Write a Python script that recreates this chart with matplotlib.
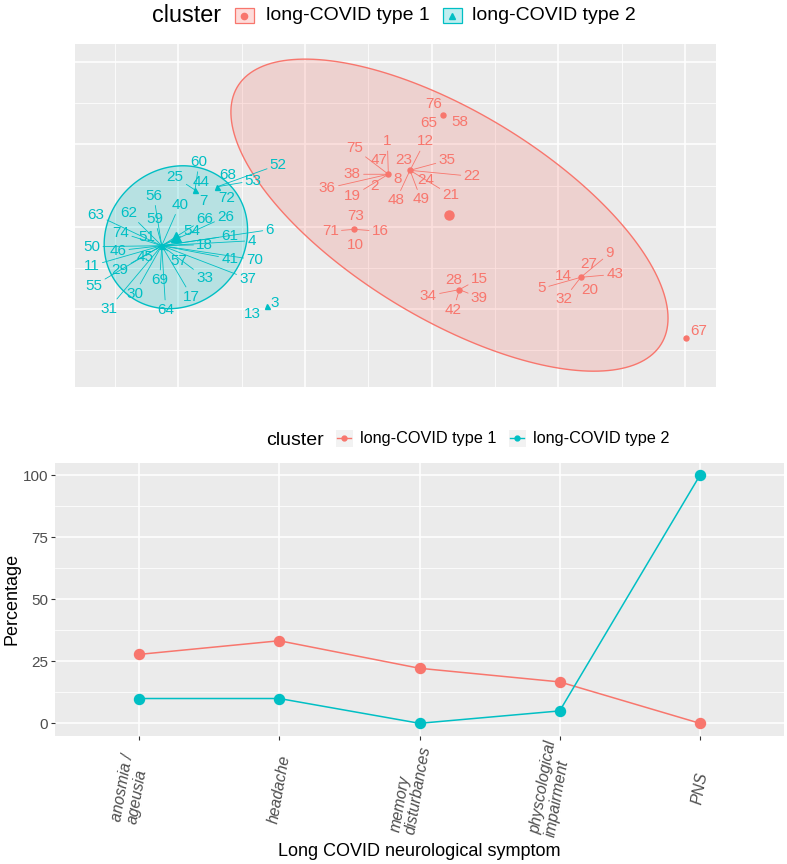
import numpy as np
import matplotlib
matplotlib.use("Agg")
import matplotlib.pyplot as plt
from matplotlib.patches import Polygon, Rectangle
from matplotlib.lines import Line2D

plt.rcParams['font.family'] = ['Liberation Sans', 'DejaVu Sans']

RED = '#F8766D'
TEAL = '#00BFC4'
PANEL = '#EBEBEB'

# ---------------- top: individuals on the first two dimensions ----------------
# many individuals share the same coordinates, so they are listed per position
grp_dim1 = [-1.132, -0.869, -0.693, -0.300, 1.088, 0.658, 0.829, 0.389, 1.219, 2.178, 3.009]
grp_dim2 = [-0.231, 0.446, 0.486, -0.964, 1.361, 0.637, 0.685, -0.032, -0.765, -0.615, -1.352]
grp_cluster = [2, 2, 2, 2, 1, 1, 1, 1, 1, 1, 1]
grp_members = [
    [56, 40, 63, 62, 59, 66, 26, 54, 6, 74, 51, 61, 4, 18, 50, 46, 45, 57, 41, 70,
     11, 29, 33, 37, 69, 55, 30, 17, 31, 64],
    [25, 44, 60, 7],
    [68, 52, 53, 72],
    [13, 3],
    [76, 65, 58],
    [1, 75, 47, 38, 8, 36, 2, 19],
    [12, 23, 35, 22, 24, 48, 49, 21],
    [73, 71, 16, 10],
    [28, 15, 34, 39, 42],
    [9, 27, 14, 43, 5, 20, 32],
    [67],
]
# repelled label offsets (pixels) of each individual
lab_dx = [
    [-8, 18, -66, -33, -7, 43, 64, 30, 108, -41, -15, 68, 90, 43, -70, -44, -17, 17, 68, 93,
     -70, -42, 43, 86, -2, -68, -27, 30, -53, 4],
    [-20, 6, 4, 8],
    [10, 61, 36, 9],
    [-15, 8],
    [-9, -14, 17],
    [-1, -34, -9, -36, 9, -61, -14, -36],
    [15, -6, 37, 62, 16, -14, 11, 41],
    [1, -24, 26, 1],
    [-6, 20, -31, 20, -6],
    [29, 8, -17, 34, -39, 9, -17],
    [13],
]
lab_dy = [
    [50, 41, 31, 33, 27, 27, 29, 15, 16, 13, 9, 10, 5, 1, -1, -5, -11, -15, -13, -14,
     -20, -24, -32, -33, -34, -40, -48, -51, -63, -64],
    [13, 8, 28, -11],
    [12, 22, 6, -11],
    [-8, 3],
    [11, -8, -7],
    [33, 26, 14, 0, -5, -14, -12, -22],
    [29, 10, 10, -6, -10, -30, -29, -25],
    [13, -2, -2, -16],
    [10, 11, -6, -8, -20],
    [24, 13, 1, 3, -11, -13, -22],
    [7],
]
cluster_names = {1: 'long-COVID type 1', 2: 'long-COVID type 2'}
cluster_colors = {1: RED, 2: TEAL}
cluster_markers = {1: 'o', 2: '^'}

# ---------------- bottom: symptom percentages per cluster ----------------
symptoms = ['anosmia /\nageusia', 'headache', 'memory\ndisturbances',
            'physcological\nimpairment', 'PNS']
pct_type1 = [27.8, 33.3, 22.2, 16.7, 0]
pct_type2 = [10, 10, 0, 5, 100]


def f_quantile_2(p, d):
    # quantile of the F(2, d) distribution (closed form)
    return d / 2.0 * ((1 - p) ** (-2.0 / d) - 1)


W, H = 787, 864
fig = plt.figure(figsize=(W / 100, H / 100), dpi=100)


def fx(px):
    return px / W


def fy(py):
    return 1 - py / H


# ---- top panel ----
ax1 = fig.add_axes([fx(75), fy(387), (716 - 75) / W, (387 - 44) / H])
ax1.set_facecolor(PANEL)
for s in ax1.spines.values():
    s.set_visible(False)
ax1.set_xlim(-1.817, 3.246)
ax1.set_ylim(-1.948, 2.22)
for v in [-1, 0, 1, 2, 3]:
    ax1.axvline(v, color='white', lw=1.1, zorder=0)
for v in [-1.5, -0.5, 0.5, 1.5, 2.5]:
    ax1.axvline(v, color='white', lw=0.55, zorder=0)
for v in [-1, 0, 1, 2]:
    ax1.axhline(v, color='white', lw=1.1, zorder=0)
for v in [-1.5, -0.5, 0.5, 1.5]:
    ax1.axhline(v, color='white', lw=0.55, zorder=0)
ax1.set_xticks([])
ax1.set_yticks([])

# expand the grouped positions into one row per individual
ind_x, ind_y, ind_c = [], [], []
for g, members in enumerate(grp_members):
    for _ in members:
        ind_x.append(grp_dim1[g])
        ind_y.append(grp_dim2[g])
        ind_c.append(grp_cluster[g])
ind_x = np.array(ind_x)
ind_y = np.array(ind_y)
ind_c = np.array(ind_c)

t = np.linspace(0, 2 * np.pi, 200)
circle = np.column_stack([np.cos(t), np.sin(t)])
for cl in [1, 2]:
    pts = np.column_stack([ind_x[ind_c == cl], ind_y[ind_c == cl]])
    n = len(pts)
    center = pts.mean(axis=0)
    shape = np.cov(pts.T)
    radius = np.sqrt(2 * f_quantile_2(0.95, n - 1))
    chol = np.linalg.cholesky(shape).T
    ell = center + radius * circle @ chol
    col = matplotlib.colors.to_rgb(cluster_colors[cl])
    ax1.add_patch(Polygon(ell, closed=True, facecolor=col + (0.22,),
                          edgecolor=col, lw=1.0, zorder=1))
    # cluster centre
    ax1.plot(center[0], center[1], marker=cluster_markers[cl],
             ms=7.5 if cl == 2 else 6.5, color=cluster_colors[cl], ls='none', zorder=3)

for g, members in enumerate(grp_members):
    cl = grp_cluster[g]
    col = cluster_colors[cl]
    ax1.plot(grp_dim1[g], grp_dim2[g], marker=cluster_markers[cl], ms=3.6,
             color=col, ls='none', zorder=3)
    for k, ind in enumerate(members):
        dx, dy = lab_dx[g][k], lab_dy[g][k]
        arrow = None
        if np.hypot(dx, dy) > 20:
            arrow = dict(arrowstyle='-', color=col, lw=0.6, shrinkA=0, shrinkB=0)
        ax1.annotate(str(ind), xy=(grp_dim1[g], grp_dim2[g]), xytext=(dx, dy),
                     textcoords='offset pixels', ha='center', va='center',
                     fontsize=11, color=col, arrowprops=arrow, zorder=4)

# top legend
fig.text(fx(152), fy(15), 'cluster', fontsize=16.8, ha='left', va='center')
for cl, kx, tx in [(1, 235, 266), (2, 443, 472)]:
    col = matplotlib.colors.to_rgb(cluster_colors[cl])
    fig.add_artist(Rectangle((fx(kx), fy(23)), 18.6 / W, 15.4 / H,
                             transform=fig.transFigure, facecolor=col + (0.25,),
                             edgecolor=col, lw=0.9))
    fig.add_artist(Line2D([fx(kx + 9.3)], [fy(16)], marker=cluster_markers[cl],
                          ms=4.5, color=col, transform=fig.transFigure))
    fig.text(fx(tx), fy(15), cluster_names[cl], fontsize=14, ha='left', va='center')

# ---- bottom panel ----
ax2 = fig.add_axes([fx(55), fy(735.7), (784 - 55) / W, (735.7 - 463) / H])
ax2.set_facecolor(PANEL)
for s in ax2.spines.values():
    s.set_visible(False)
xs = np.arange(len(symptoms))
ax2.set_xlim(-0.6, len(symptoms) - 0.4)
ax2.set_ylim(-5, 105)
ax2.set_yticks([0, 25, 50, 75, 100])
ax2.set_yticks([12.5, 37.5, 62.5, 87.5], minor=True)
ax2.set_xticks(xs)
ax2.set_xticklabels([])
ax2.grid(which='major', color='white', lw=1.1)
ax2.grid(which='minor', axis='y', color='white', lw=0.55)
ax2.set_axisbelow(True)
ax2.tick_params(axis='both', which='major', length=3, width=0.8, color='#333333',
                labelsize=11, labelcolor='#4D4D4D', pad=2)
ax2.tick_params(axis='y', which='minor', length=0)

ax2.plot(xs, pct_type1, color=RED, lw=1.1, marker='o', ms=7.2, zorder=3)
ax2.plot(xs, pct_type2, color=TEAL, lw=1.1, marker='o', ms=7.2, zorder=3)

for i, lab in enumerate(symptoms):
    nl = lab.count('\n')
    ax2.annotate(lab, xy=(i, 0), xycoords=ax2.get_xaxis_transform(),
                 xytext=(-9 * nl, -53), textcoords='offset pixels',
                 rotation=80, rotation_mode='anchor', ha='center', va='center',
                 multialignment='left', linespacing=1.05, fontsize=11.3,
                 style='italic', color='#4D4D4D')

fig.text(fx(12), fy(599), 'Percentage', rotation=90, fontsize=13, ha='center', va='center')
fig.text(fx(419.5), fy(851), 'Long COVID neurological symptom', fontsize=13,
         ha='center', va='center')

# bottom legend
fig.text(fx(266), fy(440), 'cluster', fontsize=14, ha='left', va='center')
for cl, kx, tx in [(1, 344, 360), (2, 517, 533)]:
    col = cluster_colors[cl]
    fig.add_artist(Rectangle((fx(kx - 8.5), fy(446.5)), 17 / W, 17 / H,
                             transform=fig.transFigure, facecolor='#F2F2F2', edgecolor='none'))
    fig.add_artist(Line2D([fx(kx - 7), fx(kx + 7)], [fy(438), fy(438)], color=col, lw=1,
                          marker=None, transform=fig.transFigure))
    fig.add_artist(Line2D([fx(kx)], [fy(438)], marker='o', ms=3.5, color=col,
                          transform=fig.transFigure))
    fig.text(fx(tx), fy(438), cluster_names[cl], fontsize=11.7, ha='left', va='center')

fig.savefig('out.png', dpi=100)
